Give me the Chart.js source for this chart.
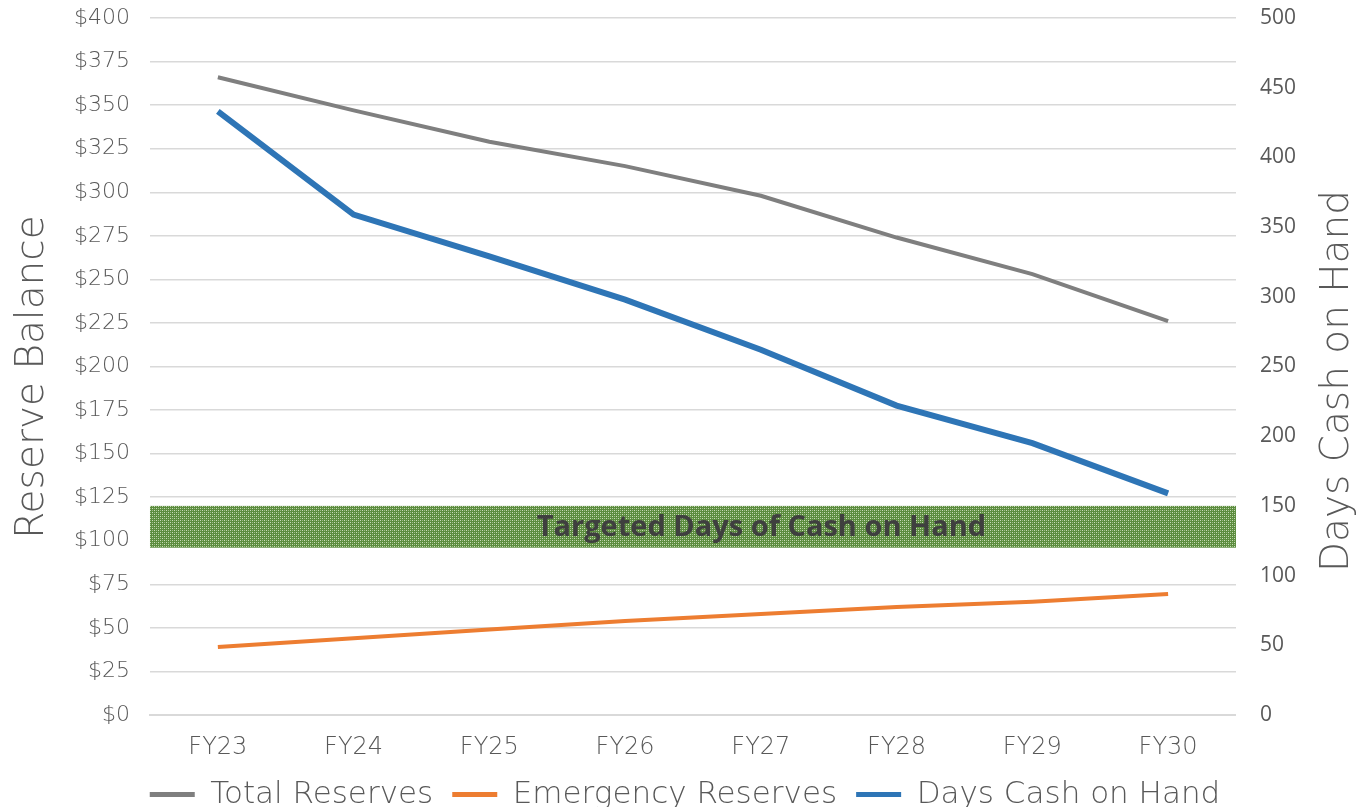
<!DOCTYPE html>
<html>
<head>
<meta charset="utf-8">
<script src="https://cdn.jsdelivr.net/npm/chart.js@4.4.1/dist/chart.umd.min.js"></script>
<style>
  html, body { margin: 0; padding: 0; background: #fff; }
  canvas { display: block; }
</style>
</head>
<body>
<canvas id="chart" width="1358" height="807"></canvas>
<script>
// chart data
const years = ['FY23', 'FY24', 'FY25', 'FY26', 'FY27', 'FY28', 'FY29', 'FY30'];
const totalReserves = [366, 347, 329, 315, 298, 274, 253, 226];
const emergencyReserves = [39, 44, 49, 54, 58, 62, 65, 69.5];
const daysCashOnHand = [433, 359, 329, 298, 262, 222, 195, 159];
const targetBand = [120, 150]; // days, on the right axis
const targetLabel = 'Targeted Days of Cash on Hand';

const gray = '#7f7f7f';
const orange = '#ed7d31';
const blue = '#2e75b6';
const textGray = '#595959';
const mainFont = '"DejaVu Sans"';

// small crosshatch tile for the target band
function makePattern(ctx) {
    const tile = document.createElement('canvas');
    tile.width = 4;
    tile.height = 4;
    const t = tile.getContext('2d');
    t.fillStyle = '#5b8c3e';
    t.fillRect(0, 0, 4, 4);
    t.fillStyle = '#c9dcb9';
    t.fillRect(0, 0, 1, 1);
    t.fillRect(2, 2, 1, 1);
    t.fillStyle = '#9dbd86';
    t.fillRect(2, 0, 1, 1);
    t.fillRect(0, 2, 1, 1);
    return ctx.createPattern(tile, 'repeat');
}

const bandPlugin = {
    id: 'targetBand',
    beforeDatasetsDraw(chart) {
        const { ctx, chartArea } = chart;
        const y1 = chart.scales.y1;
        const top = y1.getPixelForValue(targetBand[1]);
        const bottom = y1.getPixelForValue(targetBand[0]);
        ctx.save();
        ctx.fillStyle = makePattern(ctx);
        ctx.fillRect(chartArea.left, top, chartArea.right - chartArea.left, bottom - top);
        ctx.fillStyle = '#3f3f3f';
        ctx.font = 'bold 29px "Open Sans"';
        ctx.textAlign = 'center';
        ctx.textBaseline = 'middle';
        const cx = chartArea.left + (chartArea.right - chartArea.left) * 0.563;
        ctx.fillText(targetLabel, cx, (top + bottom) / 2 + 1);
        ctx.restore();
    }
};

// both axis titles, reading bottom-to-top
const axisTitlePlugin = {
    id: 'axisTitles',
    afterDraw(chart) {
        const { ctx } = chart;
        const titles = [['Reserve Balance', 33, 377], ['Days Cash on Hand', 1338, 381]];
        ctx.save();
        ctx.fillStyle = textGray;
        ctx.font = '300 39px ' + mainFont;
        ctx.textAlign = 'center';
        ctx.textBaseline = 'middle';
        titles.forEach(([text, x, y]) => {
            ctx.save();
            ctx.translate(x, y);
            ctx.rotate(-Math.PI / 2);
            ctx.fillText(text, 0, 0);
            ctx.restore();
        });
        ctx.restore();
    }
};

const ctx = document.getElementById('chart').getContext('2d');
new Chart(ctx, {
    type: 'line',
    data: {
        labels: years,
        datasets: [
            {
                label: 'Total Reserves',
                data: totalReserves,
                borderColor: gray,
                backgroundColor: gray,
                borderWidth: 4,
                pointRadius: 0,
                yAxisID: 'y',
                order: 3
            },
            {
                label: 'Emergency Reserves',
                data: emergencyReserves,
                borderColor: orange,
                backgroundColor: orange,
                borderWidth: 4,
                pointRadius: 0,
                yAxisID: 'y',
                order: 2
            },
            {
                label: 'Days Cash on Hand',
                data: daysCashOnHand,
                borderColor: blue,
                backgroundColor: blue,
                borderWidth: 6,
                pointRadius: 0,
                yAxisID: 'y1',
                order: 1
            }
        ]
    },
    options: {
        responsive: false,
        animation: false,
        devicePixelRatio: 1,
        layout: { padding: { left: 72, right: 60, top: 18, bottom: -13 } },
        plugins: {
            tooltip: { enabled: false },
            legend: {
                position: 'bottom',
                labels: {
                    color: textGray,
                    font: { family: mainFont, size: 31, weight: 300 },
                    boxWidth: 45,
                    boxHeight: 5,
                    padding: 19,
                    generateLabels(chart) {
                        return chart.data.datasets.map((ds, i) => ({
                            text: ds.label,
                            fillStyle: ds.borderColor,
                            strokeStyle: ds.borderColor,
                            lineWidth: 0,
                            fontColor: textGray,
                            datasetIndex: i
                        }));
                    }
                }
            }
        },
        scales: {
            x: {
                offset: true,
                grid: { display: false, drawTicks: false },
                border: { color: '#d9d9d9', width: 2 },
                ticks: {
                    color: textGray,
                    font: { family: mainFont, size: 24, weight: 300, lineHeight: 1 },
                    padding: 21
                },
                // drop the spare room under the labels so the legend sits close
                afterFit(scale) { scale.height = 45; }
            },
            y: {
                position: 'left',
                min: 0,
                max: 400,
                grid: {
                    color: '#d9d9d9',
                    lineWidth: 1.5,
                    drawTicks: true,
                    tickLength: 18,
                    tickColor: 'rgba(0,0,0,0)'
                },
                border: { display: false },
                ticks: {
                    stepSize: 25,
                    color: textGray,
                    font: { family: mainFont, size: 22, weight: 300 },
                    padding: 2,
                    callback: v => '$' + v
                }
            },
            y1: {
                position: 'right',
                min: 0,
                max: 500,
                grid: {
                    display: true,
                    drawOnChartArea: false,
                    drawTicks: true,
                    tickLength: 22,
                    tickColor: 'rgba(0,0,0,0)'
                },
                border: { display: false },
                ticks: {
                    stepSize: 50,
                    color: textGray,
                    font: { family: 'Open Sans', size: 21 },
                    padding: 2
                }
            }
        }
    },
    plugins: [bandPlugin, axisTitlePlugin]
});
</script>
</body>
</html>
